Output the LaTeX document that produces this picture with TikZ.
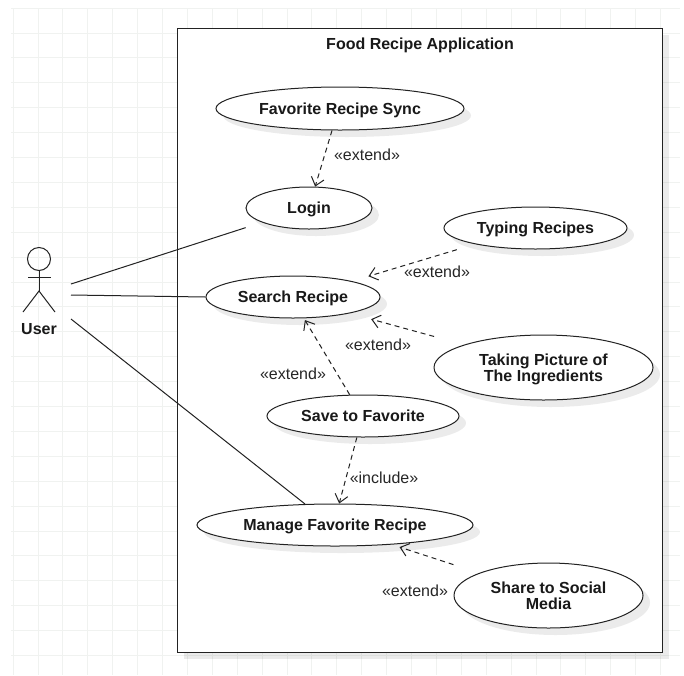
\documentclass[tikz,border=0pt]{standalone}
\usepackage{fontspec}
\setmainfont{Liberation Sans}
\usetikzlibrary{shapes.geometric,arrows.meta,shadows}
\definecolor{ink}{HTML}{222222}
\definecolor{gridc}{HTML}{F0F2F0}
\tikzset{
  softshadow/.style={drop shadow={shadow xshift=7pt,shadow yshift=-7pt,fill=black,opacity=.08}},
  usecase/.style={ellipse,draw=ink,line width=1pt,fill=white,inner sep=0pt,softshadow,text depth=0pt,
    font=\fontsize{16}{16}\selectfont\bfseries,align=center,text=black!90},
  frame/.style={rectangle,draw=ink,line width=1pt,fill=white,inner sep=0pt,softshadow},
  assoc/.style={draw=ink,line width=1pt},
  dep/.style={draw=ink,line width=1pt,dash pattern=on 5pt off 4pt,
    -{Straight Barb[length=8pt,width=13pt,line width=1pt]}},
  stereo/.style={font=\fontsize{16}{16}\selectfont,text=black!85,inner sep=0pt},
  limb/.style={draw=ink,line width=1pt},
}
\begin{document}
\begin{tikzpicture}[x=1pt,y=-1pt]
\useasboundingbox (0,0) rectangle (684,675);
\fill[white] (0,0) rectangle (684,675);
% background grid
\foreach \k in {0,...,26} \draw[gridc,line width=.8pt] ({13+24.9*\k},8) -- ({13+24.9*\k},675);
\foreach \k in {0,...,26} \draw[gridc,line width=.8pt] (11,{8+24.9*\k}) -- (680,{8+24.9*\k});
% system boundary
\node[frame,minimum width=485pt,minimum height=624pt] (system) at (419.5,340) {};
\node[font=\fontsize{16}{16}\selectfont\bfseries,text=black!90,inner sep=0pt] (title) at (420,45) {Food Recipe Application};
% use cases
\node[usecase,minimum width=248pt,minimum height=43pt] (fav) at (340,108.5) {Favorite Recipe Sync};
\node[usecase,minimum width=126pt,minimum height=42pt] (login) at (309,208) {Login};
\node[usecase,minimum width=174pt,minimum height=42pt] (search) at (293,297) {Search Recipe};
\node[usecase,minimum width=183pt,minimum height=42pt] (typing) at (535.5,228) {Typing Recipes};
\node[usecase,minimum width=219pt,minimum height=65pt] (taking) at (543.5,367.5) {Taking Picture of\\The Ingredients};
\node[usecase,minimum width=192pt,minimum height=42pt] (save) at (363,416) {Save to Favorite};
\node[usecase,minimum width=276pt,minimum height=42pt] (manage) at (335,525) {Manage Favorite Recipe};
\node[usecase,minimum width=189pt,minimum height=65pt] (share) at (548.5,595.5) {Share to Social\\Media};
% actor
\draw[limb] (39,259) circle (11.5pt);
\coordinate (neck) at (39,270.5);
\coordinate (hip) at (39,291);
\draw[limb] (neck) -- (hip);
\draw[limb] (28,277) -- (51,277);
\draw[limb] (23,312) -- (hip) -- (55,312);
\node[font=\fontsize{16}{16}\selectfont\bfseries,text=black!90,inner sep=0pt] (user) at (39,329) {User};
\coordinate (userA) at (71,284);
\coordinate (userB) at (71,295);
\coordinate (userC) at (71,319);
% associations
\draw[assoc,shorten >=17pt] (userA) -- (login.197);
\draw[assoc] (userB) -- (search.180);
\draw[assoc] (userC) -- (manage.145);
% dependencies
\draw[dep] (fav.250.4) -- (login.74.7);
\draw[dep,shorten <=19pt,shorten >=17pt] (typing.195.5) -- (search.15.7);
\draw[dep,shorten <=31pt,shorten >=22pt] (taking.164.3) -- (search.344.3);
\draw[dep,shorten >=2pt] (save.122.5) -- (search.297.6);
\draw[dep] (save.254.7) -- (manage.79.7);
\draw[dep,shorten <=27pt,shorten >=8pt] (share.162) -- (manage.341.7);
% stereotypes
\node[stereo] (l1) at (367,155) {«extend»};
\node[stereo] (l2) at (437,272) {«extend»};
\node[stereo] (l3) at (378,345) {«extend»};
\node[stereo] (l4) at (293,374) {«extend»};
\node[stereo] (l5) at (384,478) {«include»};
\node[stereo] (l6) at (415,591) {«extend»};
\end{tikzpicture}
\end{document}
